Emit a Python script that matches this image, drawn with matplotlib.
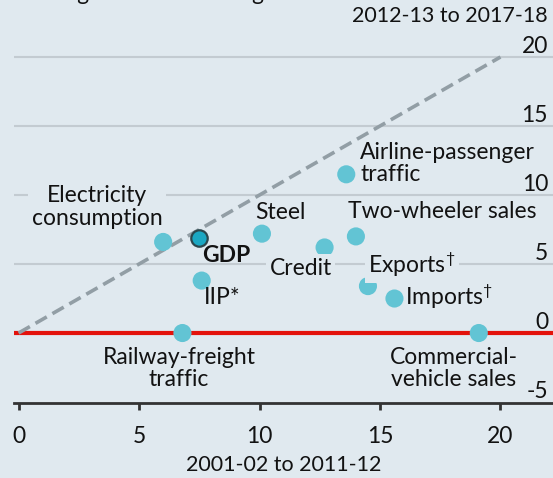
import matplotlib
matplotlib.use("Agg")
import matplotlib.pyplot as plt

# ---- data ----
names = ["Electricity\nconsumption", "GDP", "Steel", "Credit", "IIP*",
         "Railway-freight\ntraffic", "Airline-passenger\ntraffic",
         "Two-wheeler sales", "Exports$^{†}$", "Imports$^{†}$",
         "Commercial-\nvehicle sales"]
x_2001_12 = [6.0, 7.5, 10.1, 12.7, 7.6, 6.8, 13.6, 14.0, 14.5, 15.6, 19.1]
y_2012_18 = [6.6, 6.9, 7.2, 6.2, 3.8, 0.0, 11.5, 7.0, 3.4, 2.5, 0.0]

x_ticks = [0, 5, 10, 15, 20]
y_ticks = [-5, 0, 5, 10, 15, 20]
x_title = "2001-02 to 2011-12"
y_title = "2012-13 to 2017-18"
top_title = "Average annual % change"

BG = "#e0e9ef"
GRID = "#c3cbd1"
RED = "#e3120b"
DOT = "#62c4d4"
GDP_FILL = "#1ba7c2"
TXT = "#121212"

plt.rcParams["font.family"] = ["Lato", "DejaVu Sans"]
plt.rcParams["mathtext.fontset"] = "custom"
plt.rcParams["mathtext.rm"] = "Lato"
plt.rcParams["mathtext.it"] = "Lato"
FS = 16.5

fig = plt.figure(figsize=(5.53, 4.78), dpi=100, facecolor=BG)
W, H = 553, 478
ax = fig.add_axes([14 / W, (H - 403) / H, 539 / W, 403 / H])
ax.set_facecolor(BG)
ax.set_xlim(-0.19, 22.18)
ax.set_ylim(-5.07, 24.13)

for s in ["top", "left", "right"]:
    ax.spines[s].set_visible(False)
ax.spines["bottom"].set_color("#333333")
ax.spines["bottom"].set_linewidth(2)

for yv in y_ticks:
    if yv > 0:
        ax.axhline(yv, color=GRID, lw=1.5, zorder=1)
ax.axhline(0, color=RED, lw=3, zorder=2)

# 45-degree dashed line
ax.plot([0, 20], [0, 20], color="#929ea5", lw=2.6, dashes=(3.6, 1.8), zorder=3)

# points
others = [i for i in range(len(names)) if names[i] != "GDP"]
ax.scatter([x_2001_12[i] for i in others], [y_2012_18[i] for i in others],
           s=170, color=DOT, edgecolor="none", zorder=4)
g = names.index("GDP")
ax.scatter([x_2001_12[g]], [y_2012_18[g]], s=140, color=GDP_FILL,
           edgecolor="#2b474d", linewidth=1.6, zorder=5)

# label positions (data units) and alignment; mask = hides gridline behind
lab = {
    "Electricity\nconsumption": (3.26, 9.13, "center", True),
    "GDP": (7.61, 5.65, "left", False),
    "Steel": (9.81, 8.7, "left", False),
    "Credit": (13.0, 4.71, "right", True),
    "IIP*": (7.70, 2.54, "left", False),
    "Railway-freight\ntraffic": (6.66, -2.57, "center", False),
    "Airline-passenger\ntraffic": (14.17, 12.28, "left", False),
    "Two-wheeler sales": (13.67, 8.77, "left", False),
    "Exports$^{†}$": (14.5, 4.93, "left", True),
    "Imports$^{†}$": (16.04, 2.61, "left", False),
    "Commercial-\nvehicle sales": (18.07, -2.57, "center", False),
}
for n in names:
    lx, ly, ha, mask = lab[n]
    kw = {}
    if mask:
        kw["bbox"] = dict(facecolor=BG, edgecolor="none", pad=2.5)
    ax.text(lx, ly, n, ha=ha, va="center", fontsize=FS, color=TXT,
            fontweight="bold" if n == "GDP" else "normal",
            linespacing=1.08, zorder=6, **kw)

# ticks
ax.set_xticks(x_ticks)
ax.set_xticklabels([str(v) for v in x_ticks])
ax.tick_params(axis="x", direction="out", length=5, width=2, color="#333333",
               labelsize=FS, labelcolor=TXT, pad=11.5)
ax.set_yticks(y_ticks)
ax.set_yticklabels([str(v) for v in y_ticks])
ax.yaxis.tick_right()
ax.tick_params(axis="y", length=0, labelsize=FS, labelcolor=TXT, pad=-3.6)
for t in ax.get_yticklabels():
    t.set_ha("right")
    t.set_va("bottom")

ax.set_xlabel(x_title, fontsize=15.5, color=TXT, labelpad=6)
fig.text(548 / W, 1 - 16 / H, y_title, ha="right", va="center",
         fontsize=15.5, color=TXT)
fig.text(18 / W, 1.0, top_title, ha="left", va="baseline",
         fontsize=FS, color=TXT)

fig.savefig("out.png", dpi=100, facecolor=BG)
